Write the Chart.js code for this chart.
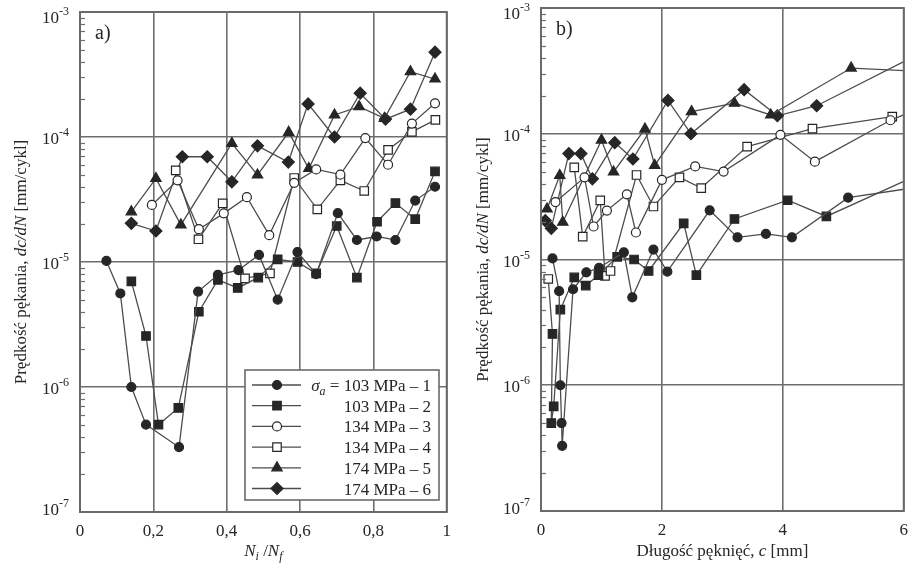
<!DOCTYPE html>
<html>
<head>
<meta charset="utf-8">
<script src="https://cdn.jsdelivr.net/npm/chart.js"></script>
<style>
  html, body { margin: 0; padding: 0; background: #fff; }
  #wrap { position: relative; width: 917px; height: 566px; }
  canvas { position: absolute; top: 0; }
  #chartA { left: 0; }
  #chartB { left: 460px; }
</style>
</head>
<body>
<div id="wrap">
  <canvas id="chartA" width="460" height="566"></canvas>
  <canvas id="chartB" width="457" height="566"></canvas>
</div>
<script>
// crack growth rate dc/dN [mm/cycle], one array per test
const rate1 = [1.02e-5, 5.6e-6, 1.0e-6, 5.0e-7, 3.3e-7, 5.8e-6, 7.9e-6, 8.6e-6, 1.14e-5, 5.0e-6, 1.2e-5, 8.0e-6, 2.46e-5, 1.5e-5, 1.6e-5, 1.5e-5, 3.1e-5, 4.0e-5];
const rate2 = [7.0e-6, 2.56e-6, 5.0e-7, 6.8e-7, 4.0e-6, 7.2e-6, 6.2e-6, 7.5e-6, 1.05e-5, 1.0e-5, 8.1e-6, 1.94e-5, 7.5e-6, 2.1e-5, 2.96e-5, 2.2e-5, 5.3e-5];
const rate3 = [2.86e-5, 4.5e-5, 1.83e-5, 2.45e-5, 3.3e-5, 1.64e-5, 4.3e-5, 5.5e-5, 5.0e-5, 9.8e-5, 6.0e-5, 1.28e-4, 1.86e-4];
const rate4 = [5.4e-5, 1.52e-5, 2.95e-5, 7.4e-6, 8.1e-6, 4.7e-5, 2.64e-5, 4.5e-5, 3.7e-5, 7.9e-5, 1.1e-4, 1.37e-4];
const rate5 = [2.52e-5, 4.66e-5, 1.98e-5, 8.9e-5, 4.97e-5, 1.09e-4, 5.6e-5, 1.5e-4, 1.75e-4, 1.41e-4, 3.33e-4, 2.91e-4];
const rate6 = [2.04e-5, 1.77e-5, 6.95e-5, 6.95e-5, 4.38e-5, 8.5e-5, 6.3e-5, 1.84e-4, 1.0e-4, 2.24e-4, 1.39e-4, 1.67e-4, 4.77e-4];

// panel a) life fraction Ni/Nf
const lifeRatio1 = [0.072, 0.11, 0.14, 0.18, 0.27, 0.322, 0.376, 0.432, 0.488, 0.539, 0.593, 0.644, 0.703, 0.755, 0.809, 0.86, 0.914, 0.968];
const lifeRatio2 = [0.14, 0.18, 0.214, 0.268, 0.324, 0.376, 0.43, 0.486, 0.539, 0.593, 0.644, 0.70, 0.755, 0.81, 0.86, 0.914, 0.968];
const lifeRatio3 = [0.196, 0.266, 0.324, 0.392, 0.455, 0.516, 0.584, 0.644, 0.71, 0.778, 0.84, 0.905, 0.968];
const lifeRatio4 = [0.261, 0.323, 0.389, 0.45, 0.518, 0.584, 0.647, 0.71, 0.775, 0.84, 0.905, 0.969];
const lifeRatio5 = [0.14, 0.207, 0.275, 0.414, 0.484, 0.569, 0.624, 0.694, 0.761, 0.83, 0.901, 0.968];
const lifeRatio6 = [0.14, 0.207, 0.279, 0.347, 0.414, 0.484, 0.568, 0.622, 0.694, 0.764, 0.833, 0.901, 0.968];

// panel b) crack length c [mm]
const crackLen1 = [0.19, 0.30, 0.32, 0.34, 0.35, 0.53, 0.75, 0.96, 1.37, 1.51, 1.86, 2.09, 2.79, 3.25, 3.72, 4.15, 5.08, 6.6];
const crackLen2 = [0.12, 0.19, 0.17, 0.21, 0.32, 0.55, 0.74, 0.95, 1.26, 1.54, 1.78, 2.36, 2.57, 3.2, 4.08, 4.72, 6.47];
const crackLen3 = [0.24, 0.72, 0.87, 1.09, 1.42, 1.57, 2.0, 2.55, 3.02, 3.96, 4.53, 5.78, 6.6];
const crackLen4 = [0.55, 0.69, 0.98, 1.06, 1.15, 1.58, 1.86, 2.29, 2.65, 3.41, 4.49, 5.81];
const crackLen5 = [0.10, 0.31, 0.36, 1.0, 1.2, 1.72, 1.88, 2.49, 3.2, 3.8, 5.13, 7.6];
const crackLen6 = [0.07, 0.17, 0.46, 0.66, 0.85, 1.22, 1.52, 2.1, 2.48, 3.36, 3.91, 4.56, 6.43];

const stressLabels = ['103 MPa – 1', '103 MPa – 2', '134 MPa – 3', '134 MPa – 4', '174 MPa – 5', '174 MPa – 6'];
const rateTicks = [1e-7, 1e-6, 1e-5, 1e-4, 1e-3];
const lifeTicks = [0, 0.2, 0.4, 0.6, 0.8, 1];
const crackTicks = [0, 2, 4, 6];

const serif = '"Liberation Serif", "DejaVu Serif", serif';
const ink = '#262626';
const lineInk = '#4d4d4d';
const gridInk = '#6e6e6e';

const markers = [
  { style: 'circle', fill: ink, r: 4.5 },
  { style: 'rect', fill: ink, r: 6 },
  { style: 'circle', fill: '#fff', r: 4.5 },
  { style: 'rect', fill: '#fff', r: 6 },
  { style: 'triangle', fill: ink, r: 6 },
  { style: 'rectRot', fill: ink, r: 6 }
];

const rates = [rate1, rate2, rate3, rate4, rate5, rate6];

function makeSets(xs) {
  return rates.map((ys, i) => ({
    label: stressLabels[i],
    data: ys.map((y, j) => ({ x: xs[i][j], y: y })),
    borderColor: lineInk,
    borderWidth: 1.3,
    tension: 0,
    pointStyle: markers[i].style,
    pointRadius: markers[i].r,
    pointBackgroundColor: markers[i].fill,
    pointBorderColor: ink,
    pointBorderWidth: 1.2
  }));
}

function drawRich(ctx, parts, x, y, align) {
  let w = 0;
  parts.forEach(p => { ctx.font = p.font; w += ctx.measureText(p.t).width; });
  let cx = align === 'center' ? x - w / 2 : align === 'right' ? x - w : x;
  ctx.textAlign = 'left';
  ctx.textBaseline = 'alphabetic';
  parts.forEach(p => {
    ctx.font = p.font;
    ctx.fillText(p.t, cx, y + (p.dy || 0));
    cx += ctx.measureText(p.t).width;
  });
}

function drawMarker(ctx, m, x, y) {
  ctx.save();
  ctx.fillStyle = m.fill;
  ctx.strokeStyle = ink;
  ctx.lineWidth = 1.2;
  if (Chart.helpers && Chart.helpers.drawPoint) {
    Chart.helpers.drawPoint(ctx, { pointStyle: m.style, radius: m.r, rotation: 0, borderWidth: 1.2 }, x, y);
  } else {
    ctx.beginPath();
    ctx.arc(x, y, m.r, 0, Math.PI * 2);
    ctx.fill(); ctx.stroke();
  }
  ctx.restore();
}

const reg = '17px ' + serif;
const ital = 'italic 17px ' + serif;
const sub = 'italic 12px ' + serif;

const yTitleParts = [
  { t: 'Prędkość pękania, ', font: reg },
  { t: 'dc/dN', font: ital },
  { t: ' [mm/cykl]', font: reg }
];

function panelDecor(o) {
  return {
    id: 'panelDecor',
    afterDatasetsDraw(chart) {
      const ctx = chart.ctx;
      const a = chart.chartArea;
      const ys = chart.scales.y;
      ctx.save();

      // minor ticks on the log axis
      ctx.strokeStyle = gridInk;
      ctx.lineWidth = 1.2;
      for (let e = -7; e < -3; e++) {
        for (let k = 2; k <= 9; k++) {
          const py = Math.round(ys.getPixelForValue(k * Math.pow(10, e))) + 0.5;
          ctx.beginPath();
          ctx.moveTo(a.left, py);
          ctx.lineTo(a.left + 5, py);
          ctx.stroke();
        }
      }

      // frame
      ctx.strokeStyle = '#6a6a6a';
      ctx.lineWidth = 2;
      ctx.strokeRect(a.left, a.top, a.right - a.left, a.bottom - a.top);

      // y tick labels 10^n
      ctx.fillStyle = ink;
      rateTicks.forEach(v => {
        const e = Math.round(Math.log10(v));
        let py = ys.getPixelForValue(v);
        py = Math.min(Math.max(py, a.top + 4), a.bottom - 4);
        ctx.font = reg;
        ctx.textAlign = 'right';
        ctx.textBaseline = 'alphabetic';
        ctx.fillText('10', a.left - 21, py + 7);
        ctx.font = '12px ' + serif;
        ctx.textAlign = 'left';
        ctx.fillText('-' + (-e), a.left - 21, py - 1);
      });

      // panel letter
      ctx.font = '20px ' + serif;
      ctx.textAlign = 'left';
      ctx.fillText(o.letter, a.left + 15, a.top + o.letterDy);

      // axis titles
      ctx.save();
      ctx.translate(o.yTitleX, (a.top + a.bottom) / 2);
      ctx.rotate(-Math.PI / 2);
      drawRich(ctx, yTitleParts, 0, 6, 'center');
      ctx.restore();
      drawRich(ctx, o.xTitle, (a.left + a.right) / 2, 556, 'center');

      // legend box
      if (o.legend) {
        const L = o.legend;
        ctx.fillStyle = '#fff';
        ctx.fillRect(L.x, L.y, L.w, L.h);
        ctx.strokeStyle = '#6a6a6a';
        ctx.lineWidth = 1.6;
        ctx.strokeRect(L.x, L.y, L.w, L.h);
        chart.data.datasets.forEach((ds, i) => {
          const ry = L.y + 15 + i * 20.7;
          ctx.strokeStyle = lineInk;
          ctx.lineWidth = 1.3;
          ctx.beginPath();
          ctx.moveTo(L.x + 7, ry);
          ctx.lineTo(L.x + 56, ry);
          ctx.stroke();
          drawMarker(ctx, markers[i], L.x + 32, ry);
          ctx.fillStyle = ink;
          const parts = [{ t: ds.label, font: reg }];
          if (i === 0) {
            parts.unshift({ t: ' = ', font: reg });
            parts.unshift({ t: 'a', font: sub, dy: 4 });
            parts.unshift({ t: 'σ', font: ital });
          }
          drawRich(ctx, parts, L.x + L.w - 8, ry + 6, 'right');
        });
      }
      ctx.restore();
    }
  };
}

function baseOptions(o) {
  return {
    responsive: false,
    animation: false,
    devicePixelRatio: 1,
    layout: { padding: o.padding },
    plugins: { legend: { display: false }, tooltip: { enabled: false } },
    scales: {
      x: {
        type: 'linear',
        min: o.xMin,
        max: o.xMax,
        afterBuildTicks: s => { s.ticks = o.xTicks.map(v => ({ value: v })); },
        afterFit: s => { s.height = o.xHeight; },
        grid: { color: gridInk, lineWidth: 1.6, drawTicks: false },
        border: { display: false },
        ticks: {
          font: { family: serif, size: 17 },
          color: ink,
          padding: 9,
          callback: v => o.fmt(v)
        }
      },
      y: {
        type: 'logarithmic',
        min: 1e-7,
        max: 1e-3,
        afterBuildTicks: s => { s.ticks = rateTicks.map(v => ({ value: v })); },
        afterFit: s => { s.width = o.yWidth; },
        grid: { color: gridInk, lineWidth: 1.6, drawTicks: false },
        border: { display: false },
        ticks: { display: false }
      }
    }
  };
}

new Chart(document.getElementById('chartA'), {
  type: 'line',
  data: { datasets: makeSets([lifeRatio1, lifeRatio2, lifeRatio3, lifeRatio4, lifeRatio5, lifeRatio6]) },
  options: baseOptions({
    padding: { left: 0, top: 12, right: 11, bottom: 0 },
    xMin: 0, xMax: 1, xTicks: lifeTicks, xHeight: 54, yWidth: 80,
    fmt: v => (v === 0 || v === 1) ? String(v) : v.toFixed(1).replace('.', ',')
  }),
  plugins: [panelDecor({
    letter: 'a)', letterDy: 27, yTitleX: 20,
    xTitle: [
      { t: 'N', font: ital }, { t: 'i', font: sub, dy: 4 },
      { t: ' /', font: reg },
      { t: 'N', font: ital }, { t: 'f', font: sub, dy: 4 }
    ],
    legend: { x: 245, y: 370, w: 194, h: 130 }
  })]
});

const setsB = makeSets([crackLen1, crackLen2, crackLen3, crackLen4, crackLen5, crackLen6]);
// first point of test 2 is drawn hollow in panel b)
setsB[1].pointBackgroundColor = ctx => ctx.dataIndex === 0 ? '#fff' : ink;

new Chart(document.getElementById('chartB'), {
  type: 'line',
  data: { datasets: setsB },
  options: baseOptions({
    padding: { left: 0, top: 8, right: 7, bottom: 0 },
    xMin: 0, xMax: 6, xTicks: crackTicks, xHeight: 55, yWidth: 81,
    fmt: v => String(v)
  }),
  plugins: [panelDecor({
    letter: 'b)', letterDy: 27, yTitleX: 22,
    xTitle: [
      { t: 'Długość pęknięć, ', font: reg },
      { t: 'c', font: ital },
      { t: ' [mm]', font: reg }
    ]
  })]
});
</script>
</body>
</html>
